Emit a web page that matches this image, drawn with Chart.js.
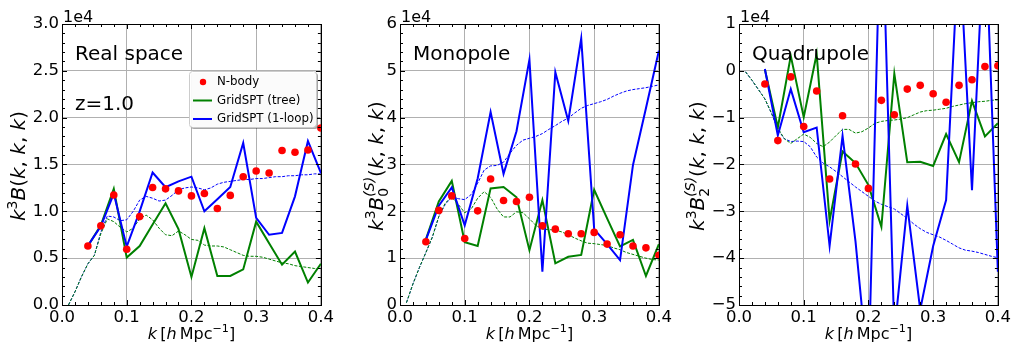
<!DOCTYPE html>
<html>
<head>
<meta charset="utf-8">
<script src="https://cdn.jsdelivr.net/npm/chart.js@4.4.0/dist/chart.umd.min.js"></script>
<style>
  body { margin: 0; width: 1014px; height: 343px; background: #fff; overflow: hidden; }
  canvas { position: absolute; top: 0; }
</style>
</head>
<body>
<canvas id="c1" width="337" height="343" style="left:0px"></canvas>
<canvas id="c2" width="337" height="343" style="left:338px"></canvas>
<canvas id="c3" width="337" height="343" style="left:677px"></canvas>
<script>
// binned k (h/Mpc) for the measurements, fine k for the smooth theory curves
const kBins = [0.04, 0.06, 0.08, 0.10, 0.12, 0.14, 0.16, 0.18, 0.20, 0.22, 0.24, 0.26, 0.28, 0.30, 0.32, 0.34, 0.36, 0.38, 0.40];
const kFine = [0.01, 0.02, 0.03, 0.04, 0.05, 0.06, 0.07, 0.08, 0.09, 0.10,
               0.11, 0.12, 0.13, 0.14, 0.15, 0.16, 0.17, 0.18, 0.19, 0.20,
               0.21, 0.22, 0.23, 0.24, 0.25, 0.26, 0.27, 0.28, 0.29, 0.30,
               0.31, 0.32, 0.33, 0.34, 0.35, 0.36, 0.37, 0.38, 0.39, 0.40];
const xTicks = [0.0, 0.1, 0.2, 0.3, 0.4];

// all values in units of 1e4
// real space
const realNbody = [0.63, 0.845, 1.175, 0.595, 0.944, 1.254, 1.24, 1.218, 1.165, 1.19, 1.03, 1.17, 1.37, 1.43, 1.41, 1.65, 1.63, 1.655, 1.89];
const realTree  = [0.63, 0.85, 1.24, 0.506, 0.63, 0.86, 1.086, 0.81, 0.30, 0.82, 0.31, 0.31, 0.38, 0.89, 0.66, 0.43, 0.57, 0.24, 0.44];
const realLoop  = [0.634, 0.84, 1.19, 0.623, 1.0, 1.414, 1.257, 1.32, 1.37, 1.0, 1.13, 1.26, 1.73, 0.93, 0.75, 0.77, 1.16, 1.75, 1.41];
const realTreeTh = [0.0, 0.14, 0.30, 0.44, 0.53, 0.76, 0.92, 0.89, 0.83, 0.78,
                    0.82, 0.92, 0.96, 0.91, 0.82, 0.75, 0.74, 0.79, 0.75, 0.70,
                    0.69, 0.64, 0.63, 0.63, 0.62, 0.59, 0.56, 0.53, 0.52, 0.52,
                    0.51, 0.49, 0.47, 0.45, 0.44, 0.42, 0.41, 0.40, 0.39, 0.39];
const realLoopTh = [0.0, 0.14, 0.30, 0.44, 0.53, 0.78, 0.95, 0.94, 0.90, 0.91,
                    1.0, 1.12, 1.16, 1.14, 1.11, 1.12, 1.17, 1.23, 1.25, 1.26,
                    1.25, 1.23, 1.25, 1.29, 1.31, 1.32, 1.33, 1.34, 1.34, 1.35,
                    1.35, 1.36, 1.37, 1.37, 1.38, 1.38, 1.39, 1.39, 1.40, 1.40];

// monopole
const monoNbody = [1.35, 2.02, 2.33, 1.42, 2.01, 2.69, 2.23, 2.21, 2.30, 1.69, 1.62, 1.52, 1.52, 1.55, 1.30, 1.50, 1.26, 1.22, 1.06];
const monoTree  = [1.40, 2.21, 2.65, 1.34, 1.26, 2.49, 2.52, 2.30, 1.17, 2.24, 0.89, 1.03, 1.07, 2.46, 1.85, 1.25, 1.39, 0.62, 1.30];
const monoLoop  = [1.39, 2.12, 2.51, 1.70, 2.70, 4.12, 2.80, 3.71, 5.24, 0.71, 4.97, 3.93, 5.69, 1.62, 1.30, 0.96, 2.99, 4.20, 5.43];
const monoTreeTh = [0.05, 0.45, 0.80, 1.12, 1.45, 1.89, 2.18, 2.30, 2.15, 1.97,
                    2.05, 2.28, 2.42, 2.30, 2.05, 1.88, 1.88, 1.99, 1.97, 1.84,
                    1.70, 1.62, 1.61, 1.60, 1.56, 1.50, 1.43, 1.37, 1.32, 1.31,
                    1.29, 1.27, 1.22, 1.18, 1.12, 1.08, 1.04, 1.00, 0.97, 0.96];
const monoLoopTh = [0.05, 0.45, 0.80, 1.12, 1.45, 1.89, 2.15, 2.31, 2.27, 2.25,
                    2.36, 2.60, 2.88, 2.97, 2.98, 3.05, 3.24, 3.41, 3.52, 3.56,
                    3.60, 3.66, 3.75, 3.83, 3.92, 3.99, 4.10, 4.20, 4.26, 4.30,
                    4.34, 4.39, 4.46, 4.52, 4.57, 4.60, 4.62, 4.64, 4.67, 4.70];

// quadrupole
const quadNbody = [-0.28, -1.49, -0.13, -1.19, -0.43, -2.31, -0.96, -1.99, -2.51, -0.63, -0.94, -0.39, -0.31, -0.49, -0.67, -0.31, -0.19, 0.09, 0.11];
const quadTree  = [0.03, -1.21, 0.32, -0.99, 0.36, -3.20, -1.72, -1.97, -2.44, -3.33, -0.06, -1.95, -1.94, -2.03, -1.35, -1.95, -0.64, -1.40, -1.12];
const quadLoop  = [0.04, -1.38, -0.39, -1.31, -1.21, -3.74, -1.39, -3.64, -6.5, 4.0, -5.6, -2.88, -5.1, -3.74, -2.76, 2.8, -2.55, 3.3, -4.29];
const quadTreeTh = [-0.02, -0.20, -0.40, -0.60, -0.90, -1.22, -1.45, -1.55, -1.45, -1.35,
                    -1.42, -1.55, -1.62, -1.52, -1.38, -1.25, -1.25, -1.33, -1.30, -1.22,
                    -1.12, -1.08, -1.06, -1.05, -1.03, -1.00, -0.94, -0.88, -0.85, -0.84,
                    -0.82, -0.80, -0.76, -0.73, -0.70, -0.68, -0.66, -0.65, -0.63, -0.62];
const quadLoopTh = [-0.02, -0.20, -0.40, -0.60, -0.90, -1.25, -1.45, -1.51, -1.50, -1.51,
                    -1.62, -1.84, -1.97, -2.05, -2.15, -2.26, -2.37, -2.48, -2.58, -2.68,
                    -2.78, -2.85, -2.90, -2.95, -3.05, -3.15, -3.27, -3.37, -3.45, -3.50,
                    -3.55, -3.62, -3.70, -3.78, -3.83, -3.85, -3.88, -3.92, -3.96, -3.99];

const realTicks = [0.0, 0.5, 1.0, 1.5, 2.0, 2.5, 3.0];
const monoTicks = [0, 1, 2, 3, 4, 5, 6];
const quadTicks = [-5, -4, -3, -2, -1, 0, 1];

const FONT = '"DejaVu Sans"';

function pts(xs, ys) {
  return xs.map((x, i) => ({ x: x, y: ys[i] }));
}

// text with italic parts, super/subscripts
function drawRich(ctx, segs, x, y, size, rotate) {
  ctx.save();
  ctx.translate(x, y);
  if (rotate) ctx.rotate(-Math.PI / 2);
  const font = (it, s) => (it ? 'italic ' : '') + (size * s).toFixed(1) + 'px ' + FONT;
  const widths = segs.map(s => {
    if (s.stack) {
      ctx.font = font(true, 0.7);
      const w1 = ctx.measureText(s.stack[0]).width;
      ctx.font = font(false, 0.7);
      const w2 = ctx.measureText(s.stack[1]).width;
      return Math.max(w1, w2);
    }
    ctx.font = font(s.it, s.sc || 1);
    return ctx.measureText(s.t).width;
  });
  const total = widths.reduce((a, b) => a + b, 0);
  let cx = -total / 2;
  const base = size * 0.36;
  ctx.fillStyle = '#000';
  ctx.textBaseline = 'alphabetic';
  ctx.textAlign = 'left';
  segs.forEach((s, i) => {
    if (s.stack) {
      ctx.font = font(true, 0.7);
      ctx.fillText(s.stack[0], cx, base - size * 0.45);
      ctx.font = font(false, 0.7);
      ctx.fillText(s.stack[1], cx, base + size * 0.22);
    } else {
      ctx.font = font(s.it, s.sc || 1);
      ctx.fillText(s.t, cx, base + (s.dy || 0) * size);
    }
    cx += widths[i];
  });
  ctx.restore();
}

const xTitle = [{ t: 'k', it: true }, { t: '\u2009[' }, { t: 'h', it: true }, { t: '\u2009Mpc' }, { t: '\u22121', sc: 0.7, dy: -0.4 }, { t: ']' }];
const args = [{ t: '(' }, { t: 'k', it: true }, { t: ', ' }, { t: 'k', it: true }, { t: ', ' }, { t: 'k', it: true }, { t: ')' }];

function framePlugin(cfg) {
  return {
    id: 'frame' + cfg.id,
    afterDraw(chart) {
      const ctx = chart.ctx;
      const a = chart.chartArea;
      const xs = chart.scales.x, ys = chart.scales.y;
      ctx.save();
      // inward ticks on all four sides
      ctx.strokeStyle = '#000';
      ctx.lineWidth = 1;
      ctx.beginPath();
      for (let v = 0; v <= 0.4001; v += 0.02) {
        const px = Math.round(xs.getPixelForValue(v)) + 0.5;
        const major = Math.abs(v * 10 - Math.round(v * 10)) < 1e-6;
        const len = major ? 5 : 3;
        ctx.moveTo(px, a.bottom); ctx.lineTo(px, a.bottom - len);
        ctx.moveTo(px, a.top); ctx.lineTo(px, a.top + len);
      }
      const step = cfg.minorStep;
      for (let v = cfg.yMin; v <= cfg.yMax + 1e-6; v += step) {
        const py = Math.round(ys.getPixelForValue(v)) + 0.5;
        const major = cfg.yTicks.some(t => Math.abs(t - v) < 1e-6);
        const len = major ? 5 : 3;
        ctx.moveTo(a.left, py); ctx.lineTo(a.left + len, py);
        ctx.moveTo(a.right, py); ctx.lineTo(a.right - len, py);
      }
      ctx.stroke();
      // frame
      ctx.strokeRect(Math.round(a.left) + 0.5, Math.round(a.top) + 0.5,
                     Math.round(a.right - a.left), Math.round(a.bottom - a.top));
      // offset text
      ctx.fillStyle = '#000';
      ctx.font = '16px ' + FONT;
      ctx.textBaseline = 'alphabetic';
      ctx.textAlign = 'left';
      ctx.fillText('1e4', a.left + 1, a.top - 2);
      // panel labels
      ctx.font = '20px ' + FONT;
      cfg.labels.forEach(l => ctx.fillText(l[0], a.left + 13, l[1]));
      // legend
      if (cfg.legend) {
        const bx = 189, by = 71, bw = 127, bh = 56;
        ctx.fillStyle = 'rgba(0,0,0,0.35)';
        roundRect(ctx, bx + 2, by + 2, bw, bh, 3); ctx.fill();
        ctx.fillStyle = 'rgba(255,255,255,0.95)';
        roundRect(ctx, bx, by, bw, bh, 3); ctx.fill();
        ctx.strokeStyle = '#cccccc';
        ctx.lineWidth = 1;
        roundRect(ctx, bx + 0.5, by + 0.5, bw, bh, 3); ctx.stroke();
        const rows = [
          { t: 'N-body', y: 82, dot: '#ff0000' },
          { t: 'GridSPT (tree)', y: 100.5, line: '#008000' },
          { t: 'GridSPT (1-loop)', y: 119, line: '#0000ff' }
        ];
        ctx.font = '11.8px ' + FONT;
        ctx.textBaseline = 'middle';
        rows.forEach(r => {
          if (r.dot) {
            ctx.fillStyle = r.dot;
            ctx.beginPath(); ctx.arc(203, r.y, 3.2, 0, Math.PI * 2); ctx.fill();
          } else {
            ctx.strokeStyle = r.line; ctx.lineWidth = 2;
            ctx.beginPath(); ctx.moveTo(193, r.y); ctx.lineTo(212, r.y); ctx.stroke();
          }
          ctx.fillStyle = '#000';
          ctx.fillText(r.t, 217, r.y);
        });
      }
      ctx.restore();
      // axis titles
      drawRich(ctx, xTitle, (a.left + a.right) / 2, 333, 16, false);
      drawRich(ctx, cfg.yTitle, cfg.yTitleX, 166, 20, true);
    }
  };
}

function roundRect(ctx, x, y, w, h, r) {
  ctx.beginPath();
  ctx.moveTo(x + r, y);
  ctx.lineTo(x + w - r, y); ctx.quadraticCurveTo(x + w, y, x + w, y + r);
  ctx.lineTo(x + w, y + h - r); ctx.quadraticCurveTo(x + w, y + h, x + w - r, y + h);
  ctx.lineTo(x + r, y + h); ctx.quadraticCurveTo(x, y + h, x, y + h - r);
  ctx.lineTo(x, y + r); ctx.quadraticCurveTo(x, y, x + r, y);
  ctx.closePath();
}

function makePanel(cfg) {
  const tickFont = { family: FONT, size: 16.5 };
  new Chart(document.getElementById(cfg.id), {
    type: 'scatter',
    data: {
      datasets: [
        { label: 'N-body', data: pts(kBins, cfg.nbody), showLine: false, pointRadius: 3.8,
          pointBackgroundColor: '#ff0000', pointBorderWidth: 0, order: 0 },
        { label: 'GridSPT (1-loop)', data: pts(kBins, cfg.loop), showLine: true, borderColor: '#0000ff',
          borderWidth: 2, pointRadius: 0, tension: 0, order: 1 },
        { label: 'GridSPT (tree)', data: pts(kBins, cfg.tree), showLine: true, borderColor: '#008000',
          borderWidth: 2, pointRadius: 0, tension: 0, order: 2 },
        { label: 'tree theory', data: pts(kFine, cfg.treeTh), showLine: true, borderColor: '#008000',
          borderWidth: 1, borderDash: [3, 1.5], pointRadius: 0, tension: 0, order: 3 },
        { label: '1-loop theory', data: pts(kFine, cfg.loopTh), showLine: true, borderColor: '#0000ff',
          borderWidth: 1, borderDash: [3, 1.5], pointRadius: 0, tension: 0, order: 4 }
      ]
    },
    options: {
      responsive: false,
      animation: false,
      layout: { padding: { left: 0, right: 15, top: 24, bottom: 0 } },
      plugins: { legend: { display: false }, tooltip: { enabled: false } },
      scales: {
        x: {
          type: 'linear', min: 0, max: 0.4,
          afterFit: s => { s.height = 38; },
          afterBuildTicks: s => { s.ticks = xTicks.map(v => ({ value: v })); },
          ticks: { callback: v => v.toFixed(1), font: tickFont, color: '#000', padding: 3,
                   maxRotation: 0, autoSkip: false },
          grid: { color: '#b0b0b0', lineWidth: 1, drawTicks: false },
          border: { display: false }
        },
        y: {
          type: 'linear', min: cfg.yMin, max: cfg.yMax,
          afterFit: s => { s.width = 62; },
          afterBuildTicks: s => { s.ticks = cfg.yTicks.map(v => ({ value: v })); },
          ticks: { callback: cfg.fmt, font: tickFont, color: '#000', padding: 3, autoSkip: false },
          grid: { color: '#b0b0b0', lineWidth: 1, drawTicks: false },
          border: { display: false }
        }
      }
    },
    plugins: [framePlugin(cfg)]
  });
}

makePanel({
  id: 'c1', nbody: realNbody, tree: realTree, loop: realLoop, treeTh: realTreeTh, loopTh: realLoopTh,
  yMin: 0, yMax: 3, yTicks: realTicks, minorStep: 0.1, fmt: v => v.toFixed(1),
  labels: [['Real space', 60], ['z=1.0', 110]], legend: true, yTitleX: 18,
  yTitle: [{ t: 'k', it: true }, { t: '3', sc: 0.7, dy: -0.42 }, { t: 'B', it: true }].concat(args)
});
makePanel({
  id: 'c2', nbody: monoNbody, tree: monoTree, loop: monoLoop, treeTh: monoTreeTh, loopTh: monoLoopTh,
  yMin: 0, yMax: 6, yTicks: monoTicks, minorStep: 0.2, fmt: v => String(v),
  labels: [['Monopole', 60]], legend: false, yTitleX: 38,
  yTitle: [{ t: 'k', it: true }, { t: '3', sc: 0.7, dy: -0.42 }, { t: 'B', it: true }, { stack: ['(S)', '0'] }].concat(args)
});
makePanel({
  id: 'c3', nbody: quadNbody, tree: quadTree, loop: quadLoop, treeTh: quadTreeTh, loopTh: quadLoopTh,
  yMin: -5, yMax: 1, yTicks: quadTicks, minorStep: 0.2, fmt: v => (v < 0 ? '\u2212' + Math.abs(v) : String(v)),
  labels: [['Quadrupole', 60]], legend: false, yTitleX: 20,
  yTitle: [{ t: 'k', it: true }, { t: '3', sc: 0.7, dy: -0.42 }, { t: 'B', it: true }, { stack: ['(S)', '2'] }].concat(args)
});
</script>
</body>
</html>
